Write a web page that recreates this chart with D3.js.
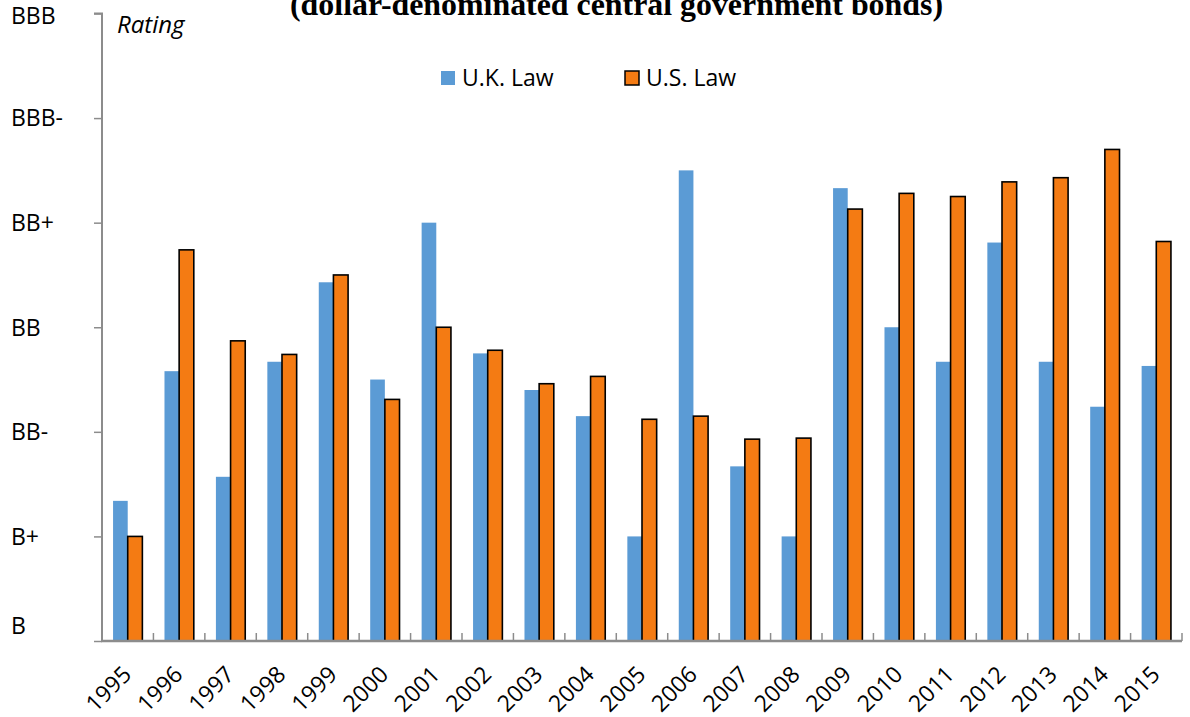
<!DOCTYPE html>
<html><head><meta charset="utf-8">
<script src="https://cdn.jsdelivr.net/npm/d3@7"></script>
<style>body{margin:0;background:#fff}svg{display:block}</style>
</head><body>
<script>
const years = ["1995","1996","1997","1998","1999","2000","2001","2002","2003","2004","2005","2006","2007","2008","2009","2010","2011","2012","2013","2014","2015"];
const ukLaw = [1.34,2.58,1.57,2.67,3.43,2.50,4.00,2.75,2.40,2.15,1.00,4.50,1.67,1.00,4.33,3.00,2.67,3.81,2.67,2.24,2.63];
const usLaw = [1.00,3.74,2.87,2.74,3.50,2.31,3.00,2.78,2.46,2.53,2.12,2.15,1.93,1.94,4.13,4.28,4.25,4.39,4.43,4.70,3.82];
const ratingLabels = ["B","B+","BB-","BB","BB+","BBB-","BBB"];
const seriesNames = ["U.K. Law","U.S. Law"];
const chartTitle = "(dollar-denominated central government bonds)";

const W = 1190, H = 717;
const plotL = 102, plotR = 1182, plotT = 13.5, plotB = 641;
const font = "'Open Sans', Lato, sans-serif";
const blue = "#5B9BD5", orange = "#F47B13", axisCol = "#8c8c8c";

const svg = d3.select("body").append("svg").attr("width", W).attr("height", H);

const x = d3.scaleBand().domain(years).range([plotL, plotR]).paddingInner(0.43).paddingOuter(0.215);
const xs = d3.scaleBand().domain(seriesNames).range([0, x.bandwidth()]);
const y = d3.scaleLinear().domain([0, 6]).range([plotB, plotT]);

// title (clipped at top, as in the reference)
svg.append("text").attr("x", 290).attr("y", 15)
  .attr("font-family", "'Liberation Serif', 'DejaVu Serif', serif")
  .attr("font-weight", "bold").attr("font-size", 32)
  .attr("textLength", 653).attr("lengthAdjust", "spacingAndGlyphs")
  .attr("fill", "#000").text(chartTitle);

// bars
const g = svg.append("g");
g.selectAll("rect.uk").data(ukLaw).join("rect").attr("class", "uk")
  .attr("x", (d, i) => x(years[i]) + xs(seriesNames[0]))
  .attr("y", d => y(d)).attr("width", xs.bandwidth())
  .attr("height", d => y(0) - y(d)).attr("fill", blue);
g.selectAll("rect.us").data(usLaw).join("rect").attr("class", "us")
  .attr("x", (d, i) => x(years[i]) + xs(seriesNames[1]))
  .attr("y", d => y(d)).attr("width", xs.bandwidth())
  .attr("height", d => y(0) - y(d)).attr("fill", orange)
  .attr("stroke", "#000").attr("stroke-width", 1.6);

// y axis
const yAxis = d3.axisLeft(y).tickValues(d3.range(0, 7)).tickSize(8).tickFormat("");
const ya = svg.append("g").attr("transform", `translate(${plotL},0)`).call(yAxis);
ya.select(".domain").attr("stroke", axisCol).attr("stroke-width", 2).attr("d", `M-8,${y(6)}H0V${y(0)}`);
ya.selectAll(".tick line").attr("stroke", axisCol).attr("stroke-width", 1.5);
svg.selectAll("text.ylab").data(ratingLabels).join("text").attr("class", "ylab")
  .attr("x", 11).attr("y", (d, i) => y(i) + (i === 0 ? -15 : i === 6 ? 2 : 0))
  .attr("dy", "0.36em").attr("font-family", font).attr("font-size", 23).attr("fill", "#000")
  .text(d => d);

// x axis
svg.append("line").attr("x1", plotL - 1).attr("x2", plotR).attr("y1", plotB).attr("y2", plotB)
  .attr("stroke", axisCol).attr("stroke-width", 2.5);
const bounds = d3.range(0, years.length + 1).map(i => plotL + i * (plotR - plotL) / years.length);
svg.selectAll("line.xt").data(bounds).join("line").attr("class", "xt")
  .attr("x1", d => d).attr("x2", d => d).attr("y1", plotB - 8).attr("y2", plotB)
  .attr("stroke", axisCol).attr("stroke-width", 1.5);
svg.selectAll("text.xlab").data(years).join("text").attr("class", "xlab")
  .attr("transform", d => `translate(${x(d) + x.bandwidth() / 2 + 5},${plotB + 35}) rotate(-45)`)
  .attr("text-anchor", "end")
  .attr("font-family", font).attr("font-size", 23).attr("fill", "#000").text(d => d);

// axis title
svg.append("text").attr("x", 117).attr("y", 33).attr("font-family", font)
  .attr("font-style", "italic").attr("font-size", 24).attr("fill", "#000").text("Rating");

// legend
const legX = [441, 625];
const lg = svg.selectAll("g.leg").data(seriesNames).join("g").attr("class", "leg")
  .attr("transform", (d, i) => `translate(${legX[i]},71)`);
lg.append("rect").attr("width", 14).attr("height", 14)
  .attr("fill", (d, i) => i === 0 ? blue : orange)
  .attr("stroke", (d, i) => i === 0 ? "none" : "#000").attr("stroke-width", 1.5);
lg.append("text").attr("x", 21).attr("y", 7).attr("dy", "0.36em")
  .attr("font-family", font).attr("font-size", 23).attr("fill", "#000").text(d => d);
</script>
</body></html>
